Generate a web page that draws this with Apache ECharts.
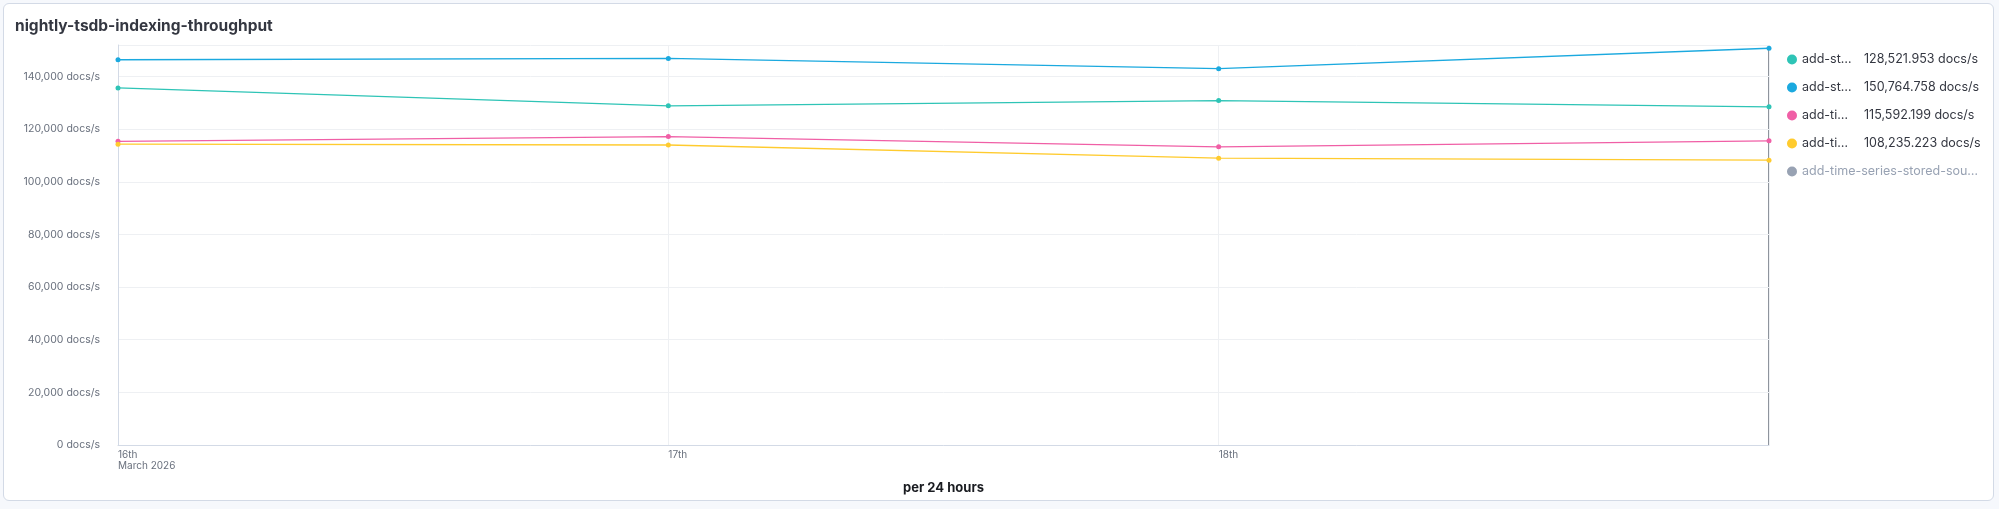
<!DOCTYPE html>
<html><head><meta charset="utf-8">
<script src="https://cdn.jsdelivr.net/npm/echarts@6/dist/echarts.min.js"></script>
<style>html,body{margin:0;background:#f6f8fc}#c{position:absolute;left:3px;top:3px;width:1989px;height:496px;background:#fff;border:1px solid #d3dae6;border-radius:6px}</style>
</head><body><div id="c"></div>
<script>
const categories = ['16th\nMarch 2026', '17th', '18th', ''];
const seriesNames = ['add-stored-source-a', 'add-stored-source-b', 'add-time-series-a', 'add-time-series-b', 'add-time-series-stored-source'];
const shortNames = ['add-st…', 'add-st…', 'add-ti…', 'add-ti…', 'add-time-series-stored-sou…'];
const lastValues = ['128,521.953 docs/s', '150,764.758 docs/s', '115,592.199 docs/s', '108,235.223 docs/s', ''];
const colors = ['#2EC4B6', '#1BA9DF', '#F05FA6', '#FFCB2E', '#98A2B3'];
const teal = [135700, 128900, 130900, 128522];
const blue = [146400, 146900, 143000, 150765];
const pink = [115400, 117200, 113300, 115592];
const yellow = [114300, 114000, 109000, 108235];
const hidden = [];
const values = [teal, blue, pink, yellow, hidden];
const yTicks = { min: 0, max: 152000, interval: 20000 };

const chart = echarts.init(document.getElementById('c'));
const sel = {}; seriesNames.forEach((n, i) => sel[n] = i < 4);
chart.setOption({
  animation: false,
  title: { text: 'nightly-tsdb-indexing-throughput', left: 6, top: 9, textStyle: { fontFamily: 'Inter', fontSize: 15.5, fontWeight: 'bold', color: '#343741' } },
  grid: { left: 114, right: 224, top: 41, bottom: 55 },
  legend: {
    orient: 'vertical', left: 1778, top: 44, itemGap: 15, icon: 'circle', itemWidth: 10, itemHeight: 10,
    selected: sel, inactiveColor: '#98A2B3',
    data: seriesNames,
    formatter: n => { const i = seriesNames.indexOf(n); return lastValues[i] ? '{a|' + shortNames[i] + '}{b|' + lastValues[i] + '}' : shortNames[i]; },
    textStyle: { fontFamily: 'Inter', fontSize: 12.5, color: '#343741',
      rich: { a: { width: 62, fontFamily: 'Inter', fontSize: 12.5, color: '#343741' }, b: { fontFamily: 'Inter', fontSize: 12.5, color: '#343741' } } }
  },
  xAxis: {
    type: 'category', data: categories, boundaryGap: false,
    name: 'per 24 hours', nameLocation: 'middle', nameGap: 37,
    nameTextStyle: { fontFamily: 'Inter', fontWeight: 'bold', fontSize: 13, color: '#1a1c21' },
    axisLine: { lineStyle: { color: '#d3dae6' } }, axisTick: { show: false },
    axisLabel: { align: 'left', fontFamily: 'Inter', fontSize: 10, color: '#69707d', lineHeight: 11, margin: 4 },
    splitLine: { show: true, lineStyle: { color: '#eef0f3' } }
  },
  yAxis: {
    type: 'value', min: yTicks.min, max: yTicks.max, interval: yTicks.interval,
    axisLabel: { showMaxLabel: false, formatter: v => v.toLocaleString('en-US') + ' docs/s', fontFamily: 'Inter', fontSize: 10.5, color: '#69707d', margin: 18 },
    axisLine: { show: true, lineStyle: { color: '#d3dae6' } },
    splitLine: { lineStyle: { color: '#eef0f3' } }
  },
  graphic: [{ type: 'line', shape: { x1: 1765, y1: 41, x2: 1765, y2: 441 }, style: { stroke: '#69707d', lineWidth: 1.5 } }],
  series: seriesNames.map((n, i) => ({
    name: n, type: 'line', data: values[i], color: colors[i],
    symbol: 'circle', symbolSize: 5, lineStyle: { width: 1.3 }
  }))
});
</script></body></html>
